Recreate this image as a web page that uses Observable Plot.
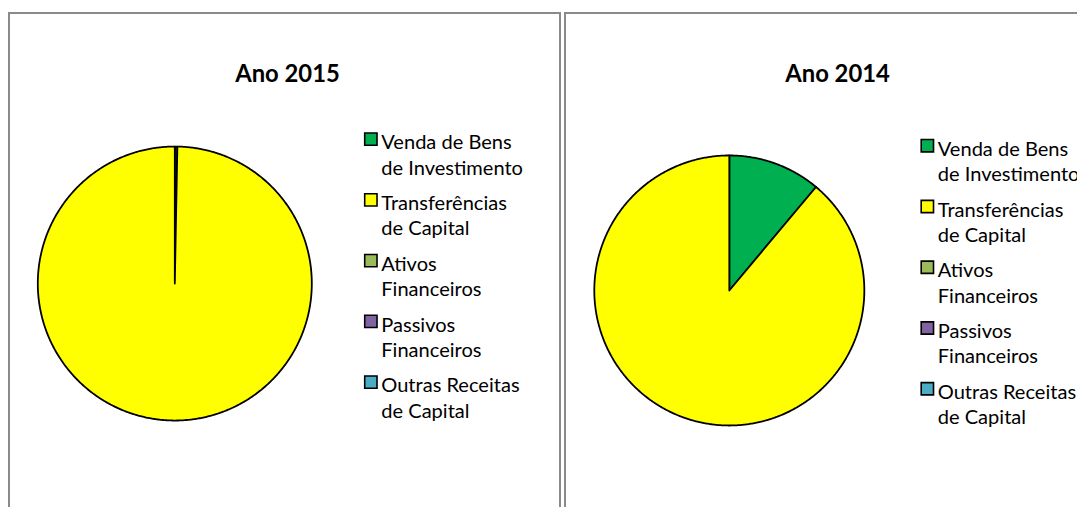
<!DOCTYPE html>
<html>
<head>
<meta charset="utf-8">
<script src="https://cdn.jsdelivr.net/npm/d3@7"></script>
<script src="https://cdn.jsdelivr.net/npm/@observablehq/plot@0.6"></script>
<style>
  html, body { margin: 0; padding: 0; overflow: hidden; background: #fff; width: 1077px; height: 507px; }
  .panel { position: absolute; top: 12px; width: 549px; height: 540px; border: 2px solid #8a8a8a; background: #fff; box-sizing: content-box; }
  .panel svg { position: absolute; left: 0; top: 0; }
</style>
</head>
<body>
<div id="p0" class="panel" style="left:8px"></div>
<div id="p1" class="panel" style="left:564px"></div>
<script>
// ---- data ----
const categories = [
  "Venda de Bens de Investimento",
  "Transferências de Capital",
  "Ativos Financeiros",
  "Passivos Financeiros",
  "Outras Receitas de Capital"
];
const legendLabels = [
  "Venda de Bens\nde Investimento",
  "Transferências\nde Capital",
  "Ativos\nFinanceiros",
  "Passivos\nFinanceiros",
  "Outras Receitas\nde Capital"
];
const colors = ["#00B050", "#FFFF00", "#9BBB59", "#8064A2", "#4BACC6"];
const titles = ["Ano 2015", "Ano 2014"];
const values2015 = [0.3, 99.7, 0, 0, 0];
const values2014 = [11.1, 88.9, 0, 0, 0];

// ---- layout (pixels, panel-local) ----
const FONT = "Lato, Carlito, Calibri, 'Open Sans', sans-serif";
const layouts = [
  {cx: 165.5, cy: 271, r: 138, titleX: 279, titleY: 68, legX: 363, legY: 132},
  {cx: 164, cy: 278, r: 136, titleX: 273, titleY: 68, legX: 363.5, legY: 138.7}
];

function slicePoints(values) {
  const arcs = d3.pie().sort(null).value(d => d.v)(categories.map((c, i) => ({c, v: values[i]})));
  const pts = [];
  for (const a of arcs) {
    const span = a.endAngle - a.startAngle;
    if (span <= 0) continue;
    const cat = a.data.c;
    const n = Math.max(2, Math.ceil(span / (Math.PI / 360)));
    pts.push({cat, x: 0, y: 0});
    for (let k = 0; k <= n; k++) {
      const t = a.startAngle + span * k / n;
      pts.push({cat, x: Math.sin(t), y: Math.cos(t)});
    }
    pts.push({cat, x: 0, y: 0});
  }
  return pts;
}

function panel(values, title, L) {
  const fs = 20.2, lh = 1.26, entryGap = 61.2;
  const marks = [
    Plot.line(slicePoints(values), {x: "x", y: "y", z: "cat", fill: "cat", stroke: "black", strokeWidth: 1.8, strokeLinejoin: "round", curve: "linear"}),
    Plot.text([title], {frameAnchor: "top-left", dx: L.titleX, dy: L.titleY, text: d => d, textAnchor: "middle", lineAnchor: "bottom", fontWeight: "bold", fontSize: 24, fill: "black"})
  ];
  categories.forEach((c, i) => {
    const base = L.legY + i * entryGap;
    marks.push(Plot.dot([c], {frameAnchor: "top-left", dx: L.legX, dy: base - 6.5, fill: d => d, stroke: "black", strokeWidth: 1.6, symbol: "square", r: 7}));
    marks.push(Plot.text([legendLabels[i]], {frameAnchor: "top-left", dx: L.legX + 10.5, dy: base - 0.71 * fs, text: d => d, textAnchor: "start", lineAnchor: "top", lineHeight: lh, fontSize: fs, fill: "black"}));
  });
  return Plot.plot({
    width: 553, height: 495, margin: 0,
    x: {domain: [-1, 1], range: [L.cx - L.r, L.cx + L.r], axis: null},
    y: {domain: [-1, 1], range: [L.cy + L.r, L.cy - L.r], axis: null},
    color: {domain: categories, range: colors},
    style: {fontFamily: FONT, background: "transparent", overflow: "visible"},
    marks
  });
}

document.getElementById("p0").appendChild(panel(values2015, titles[0], layouts[0]));
document.getElementById("p1").appendChild(panel(values2014, titles[1], layouts[1]));
</script>
</body>
</html>
